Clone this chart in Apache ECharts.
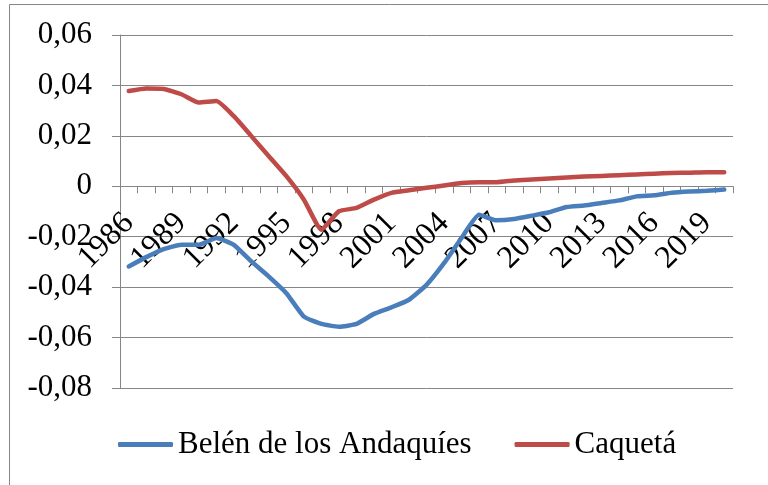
<!DOCTYPE html>
<html>
<head>
<meta charset="utf-8">
<script src="https://cdn.jsdelivr.net/npm/echarts@6/dist/echarts.min.js"></script>
<style>
  html, body { margin: 0; padding: 0; background: #fff; }
  #chart { width: 768px; height: 485px; }
</style>
</head>
<body>
<div id="chart"></div>
<script>
var chart = echarts.init(document.getElementById('chart'));

var years = [];
for (var y = 1986; y <= 2020; y++) years.push(String(y));

var belen = [
  -0.0318, -0.0281, -0.0249, -0.0232, -0.0232, -0.0205, -0.0232, -0.0298, -0.0358, -0.0424,
  -0.0517, -0.0546, -0.0557, -0.0546, -0.0506, -0.0480, -0.0450, -0.0391, -0.0305, -0.0205,
  -0.0113, -0.0135, -0.0130, -0.0117, -0.0103, -0.0082, -0.0076, -0.0066, -0.0056, -0.0040,
  -0.0036, -0.0026, -0.0021, -0.0018, -0.0013
];
var caqueta = [
  0.0378, 0.0388, 0.0386, 0.0365, 0.0332, 0.0338, 0.0278, 0.0199, 0.0119, 0.0040,
  -0.0053, -0.0172, -0.0099, -0.0086, -0.0053, -0.0026, -0.0016, -0.0006, 0.0003, 0.0013,
  0.0016, 0.0016, 0.0023, 0.0027, 0.0031, 0.0035, 0.0039, 0.0041, 0.0044, 0.0047,
  0.0050, 0.0053, 0.0054, 0.0056, 0.0056
];

var font = 'Liberation Serif';
var grey = '#868686';
var yMin = -0.08, yMax = 0.06;
var gridTop = 35, gridBottom = 97, chartH = 485;
// lift the category axis (line, ticks, labels) up to the zero line
var plotH = chartH - gridTop - gridBottom;
var zeroOffset = -plotH * (0 - yMin) / (yMax - yMin);

var option = {
    animation: false,
    textStyle: { fontFamily: font },
    graphic: [{
        type: 'rect',
        shape: { x: 9.5, y: 4.5, width: 800, height: 500 },
        style: { fill: 'none', stroke: grey, lineWidth: 1 }
    }],
    grid: { left: 120, right: 35, top: gridTop, bottom: gridBottom },
    legend: {
        left: 113,
        top: 424,
        icon: 'roundRect',
        itemWidth: 55,
        itemHeight: 5,
        itemGap: 43,
        textStyle: { fontFamily: font, fontSize: 31, color: '#000' },
        data: ['Belén de los Andaquíes', 'Caquetá']
    },
    xAxis: {
        type: 'category',
        data: years,
        boundaryGap: true,
        offset: zeroOffset,
        axisLine: { onZero: false, lineStyle: { color: grey, width: 1 } },
        axisTick: { show: true, interval: 0, length: 7, lineStyle: { color: grey } },
        axisLabel: {
            interval: 2,
            rotate: 45,
            margin: 32,
            fontFamily: font,
            fontSize: 32,
            color: '#000'
        },
        splitLine: { show: false }
    },
    yAxis: {
        type: 'value',
        min: yMin,
        max: yMax,
        interval: 0.02,
        axisLine: { show: true, lineStyle: { color: grey, width: 1 } },
        axisTick: { show: true, length: 8, lineStyle: { color: grey } },
        axisLabel: {
            margin: 28,
            fontFamily: font,
            fontSize: 31,
            color: '#000',
            formatter: function (v) {
                return Math.abs(v) < 1e-9 ? '0' : v.toFixed(2).replace('.', ',');
            }
        },
        splitLine: { show: true, lineStyle: { color: grey, width: 1 } }
    },
    series: [
        {
            name: 'Belén de los Andaquíes',
            type: 'line',
            data: belen,
            smooth: 0.15,
            symbol: 'none',
            lineStyle: { color: '#4a7ebb', width: 4.5, cap: 'round', join: 'round' },
            itemStyle: { color: '#4a7ebb' }
        },
        {
            name: 'Caquetá',
            type: 'line',
            data: caqueta,
            smooth: 0.15,
            symbol: 'none',
            lineStyle: { color: '#be4b48', width: 4.5, cap: 'round', join: 'round' },
            itemStyle: { color: '#be4b48' }
        }
    ]
};
chart.setOption(option);
</script>
</body>
</html>
